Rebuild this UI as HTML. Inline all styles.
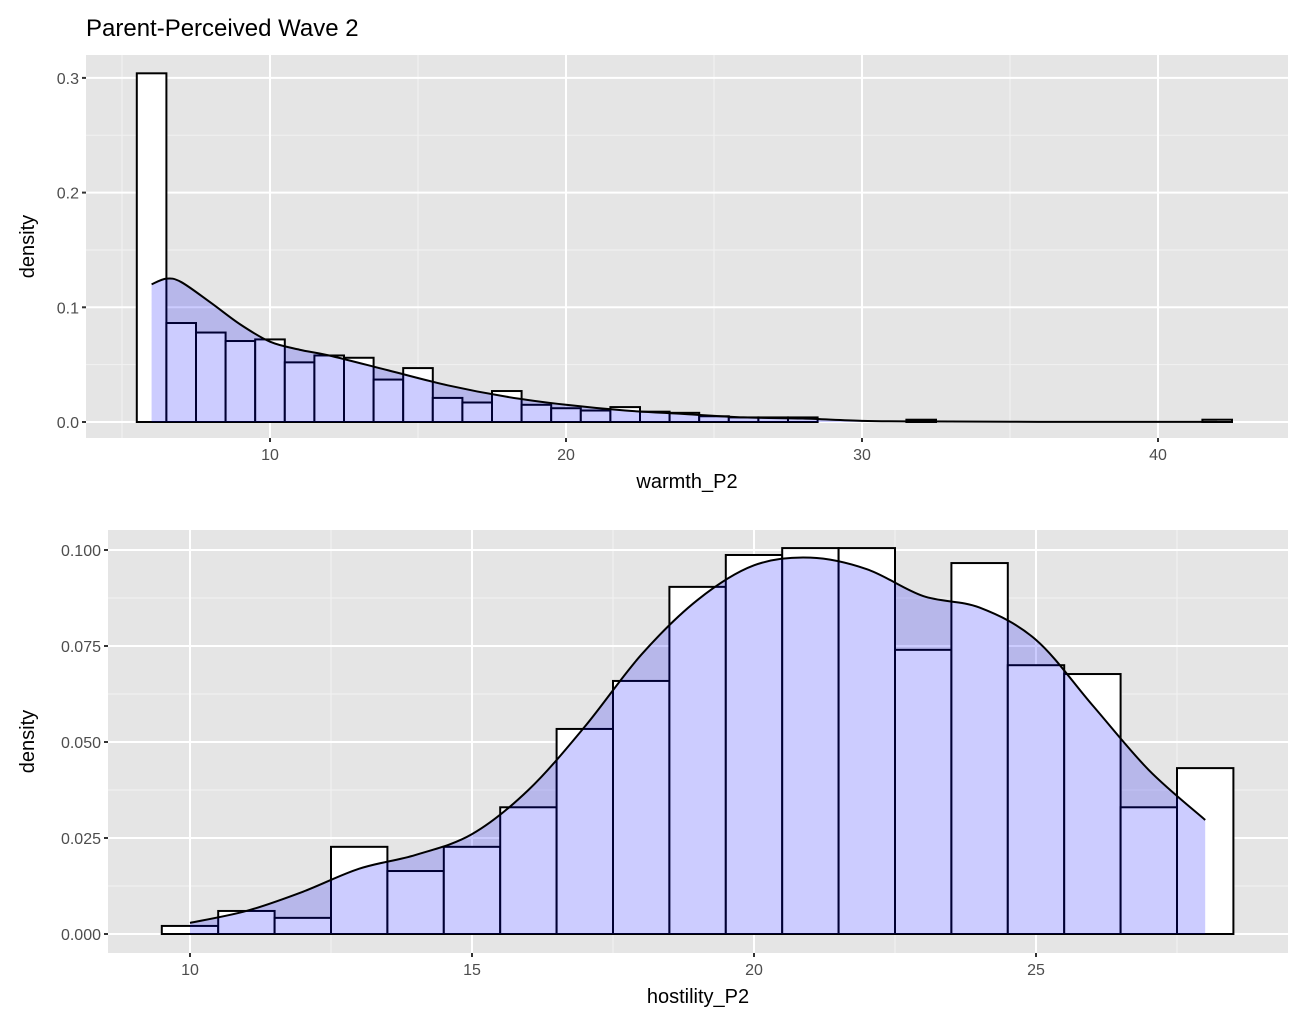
<!DOCTYPE html>
<html><head><meta charset="utf-8"><style>
body{margin:0;background:#fff;font-family:"Liberation Sans",Arial,sans-serif}
</style></head><body>
<svg id="c" width="1301" height="1029" xmlns="http://www.w3.org/2000/svg">
<text x="86" y="36" font-size="24" fill="#000">Parent-Perceived Wave 2</text>
</svg>
<script>
// Top panel data (warmth_P2)
const warmBinStart = 5.5;
const warmDensity = [0.304,0.0863,0.078,0.0706,0.072,0.052,0.058,0.056,0.037,0.047,0.021,0.017,0.027,0.015,0.012,0.010,0.013,0.009,0.008,0.005,0.004,0.004,0.004,0,0,0,0.002,0,0,0,0,0,0,0,0,0,0.002];
const warmCurveX = [6,6.5,7,8,9,10,11,12,14,16,18,20,22,24,26,28,30,32,35,38,42];
const warmCurveY = [0.12,0.125,0.122,0.104,0.085,0.070,0.063,0.058,0.045,0.032,0.022,0.015,0.010,0.007,0.004,0.003,0.001,0.0005,0.0002,0.0001,0.0001];
const warmXTicks = [10,20,30,40];
const warmYTicks = [0,0.1,0.2,0.3];
const warmYLabels = ["0.0","0.1","0.2","0.3"];
// Bottom panel data (hostility_P2)
const hostBinStart = 9.5;
const hostDensity = [0.0021,0.006,0.0042,0.0227,0.0164,0.0227,0.033,0.0534,0.0659,0.0904,0.0987,0.1005,0.1005,0.074,0.0966,0.070,0.0677,0.033,0.0432];
const hostCurveX = [10,11,12,13,14,15,16,17,18,19,20,21,22,23,24,25,26,27,28];
const hostCurveY = [0.0029,0.006,0.011,0.017,0.0206,0.026,0.0375,0.054,0.0727,0.087,0.096,0.098,0.095,0.088,0.085,0.0766,0.0596,0.0427,0.0297];
const hostXTicks = [10,15,20,25];
const hostYTicks = [0,0.025,0.05,0.075,0.1];
const hostYLabels = ["0.000","0.025","0.050","0.075","0.100"];

const NS="http://www.w3.org/2000/svg";
const svg=document.getElementById('c');
function mk(t,a,p){const e=document.createElementNS(NS,t);for(const k in a)e.setAttribute(k,a[k]);(p||svg).appendChild(e);return e;}
function smooth(pts){
  let d='M'+pts[0][0]+','+pts[0][1];
  for(let i=0;i<pts.length-1;i++){
    const p0=pts[Math.max(0,i-1)],p1=pts[i],p2=pts[i+1],p3=pts[Math.min(pts.length-1,i+2)];
    const c1x=p1[0]+(p2[0]-p0[0])/6,c1y=p1[1]+(p2[1]-p0[1])/6;
    const c2x=p2[0]-(p3[0]-p1[0])/6,c2y=p2[1]-(p3[1]-p1[1])/6;
    d+=' C'+c1x+','+c1y+' '+c2x+','+c2y+' '+p2[0]+','+p2[1];
  }
  return d;
}
function panel(o){
  const g=mk('g',{});
  
  
  const sx=v=>o.px0+(v-o.xv0)*o.pxPer;
  const sy=v=>o.py0-v*o.pyPer;
  const bg=mk('rect',{x:o.L,y:o.T,width:o.R-o.L,height:o.B-o.T,fill:'#e5e5e5'},g);
  
  
  for(const v of o.xMinor){mk('line',{x1:sx(v),x2:sx(v),y1:o.T,y2:o.B,stroke:'#f2f2f2','stroke-width':1},g);}
  for(const v of o.yMinor){mk('line',{x1:o.L,x2:o.R,y1:sy(v),y2:sy(v),stroke:'#f2f2f2','stroke-width':1},g);}
  o.xTicks.forEach(v=>{
    mk('line',{x1:sx(v),x2:sx(v),y1:o.T,y2:o.B,stroke:'#fff','stroke-width':2},g);
    mk('line',{x1:sx(v),x2:sx(v),y1:o.B,y2:o.B+4,stroke:'#333','stroke-width':2},g);
    const t=mk('text',{x:sx(v),y:o.B+22,'font-size':16,fill:'#4d4d4d','text-anchor':'middle'},g);t.textContent=v;
    
    
  });
  o.yTicks.forEach((v,i)=>{
    mk('line',{x1:o.L,x2:o.R,y1:sy(v),y2:sy(v),stroke:'#fff','stroke-width':2},g);
    mk('line',{x1:o.L-4,x2:o.L,y1:sy(v),y2:sy(v),stroke:'#333','stroke-width':2},g);
    const t=mk('text',{x:o.L-7,y:sy(v)+6,'font-size':16,fill:'#4d4d4d','text-anchor':'end'},g);t.textContent=o.yLabels[i];
    
    
  });
  o.dens.forEach((d,i)=>{
    if(d<=0)return;
    const x0=sx(o.bin0+i),x1=sx(o.bin0+i+1);
    const r=mk('rect',{x:x0,y:sy(d),width:x1-x0,height:sy(0)-sy(d),fill:'#fff',stroke:'#000','stroke-width':2},g);
    
    
  });
  const pts=o.cx.map((x,i)=>[sx(x),sy(o.cy[i])]);
  const curve=smooth(pts);
  const d=curve+' L'+pts[pts.length-1][0]+','+sy(0)+' L'+pts[0][0]+','+sy(0)+'Z';
  const a=mk('path',{d:d,fill:'rgba(0,0,255,0.2)',stroke:'none'},g);
  
  
  const ln=mk('path',{d:curve,fill:'none',stroke:'#000','stroke-width':2,'stroke-linejoin':'round'},g);
  
  
  const xt=mk('text',{x:(o.L+o.R)/2,y:o.B+50,'font-size':20,fill:'#000','text-anchor':'middle'},g);xt.textContent=o.xTitle;
  
  
  const cy=(o.T+o.B)/2;
  const yt=mk('text',{x:34,y:cy,'font-size':20,fill:'#000','text-anchor':'middle',transform:'rotate(-90 34 '+cy+')'},g);yt.textContent='density';
  
  
}
panel({name:'warmth-panel',L:86,R:1288,T:55,B:438,px0:270,xv0:10,pxPer:29.6,py0:422,pyPer:1147,
  xMinor:[5,15,25,35],yMinor:[0.05,0.15,0.25],xTicks:warmXTicks,yTicks:warmYTicks,yLabels:warmYLabels,
  dens:warmDensity,bin0:warmBinStart,cx:warmCurveX,cy:warmCurveY,xTitle:'warmth_P2'});
panel({name:'hostility-panel',L:108,R:1288,T:530,B:953,px0:190,xv0:10,pxPer:56.4,py0:934,pyPer:3840,
  xMinor:[12.5,17.5,22.5,27.5],yMinor:[0.0125,0.0375,0.0625,0.0875],xTicks:hostXTicks,yTicks:hostYTicks,yLabels:hostYLabels,
  dens:hostDensity,bin0:hostBinStart,cx:hostCurveX,cy:hostCurveY,xTitle:'hostility_P2'});
</script>
</body></html>
